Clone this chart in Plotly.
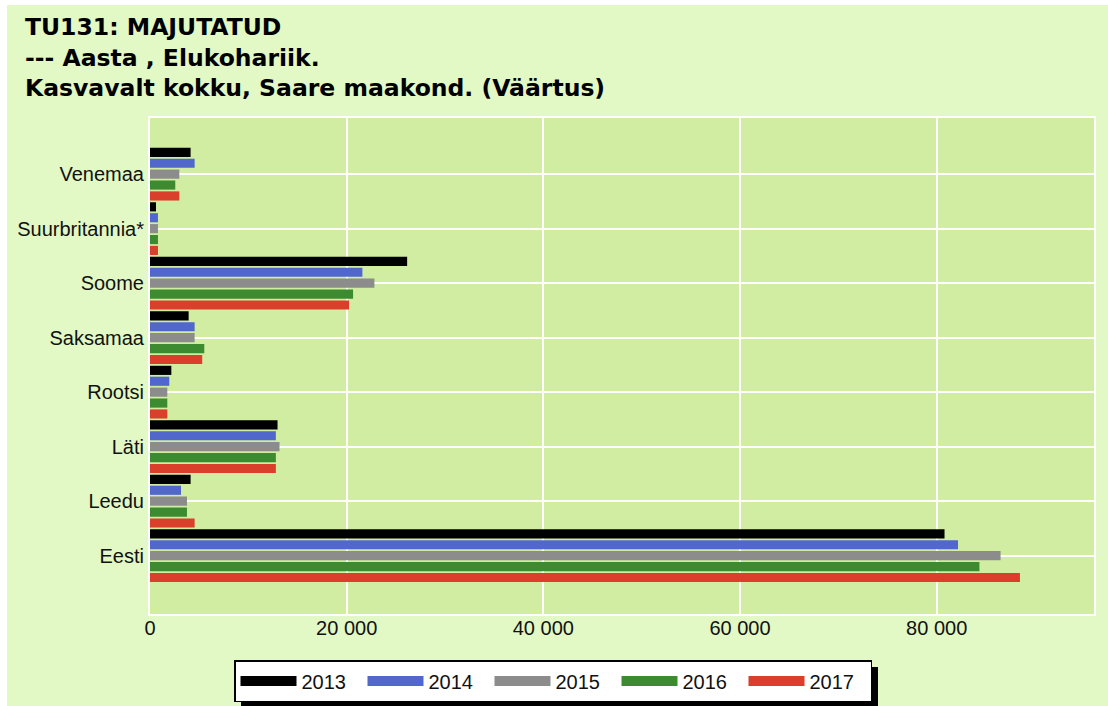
import plotly.graph_objects as go

categories = ["Venemaa", "Suurbritannia*", "Soome", "Saksamaa", "Rootsi", "Läti", "Leedu", "Eesti"]
years = ["2013", "2014", "2015", "2016", "2017"]
v2013 = [4130, 610, 26150, 3930, 2170, 12970, 4130, 80800]
v2014 = [4540, 810, 21600, 4540, 1960, 12800, 3150, 82170]
v2015 = [2980, 810, 22820, 4540, 1760, 13170, 3760, 86500]
v2016 = [2570, 810, 20650, 5520, 1760, 12800, 3760, 84350]
v2017 = [2980, 810, 20240, 5310, 1760, 12800, 4540, 88470]
series = [v2013, v2014, v2015, v2016, v2017]
colors = ["#000000", "#5167cc", "#8c8c8c", "#3d8b31", "#d93f2b"]
x_ticks = [0, 20000, 40000, 60000, 80000]
x_ticklabels = ["0", "20 000", "40 000", "60 000", "80 000"]

W, H = 1108, 706
ML, MR, MT, MB = 150, 14, 118, 92
PW, PH = W - ML - MR, H - MT - MB

def px_x(p):
    return (p - ML) / PW

def px_y(p):
    return (H - MB - p) / PH

fig = go.Figure()
for yr, vals, col in zip(years, series, colors):
    fig.add_trace(go.Bar(
        y=categories, x=vals, orientation="h", name=yr,
        marker=dict(color=col, line=dict(width=0)),
        showlegend=False,
    ))
# legend entries (wide swatches)
for yr, col in zip(years, colors):
    fig.add_trace(go.Scatter(
        x=[None], y=[None], mode="lines", name=yr,
        line=dict(color=col, width=17),
        showlegend=True, hoverinfo="skip",
    ))

tick_font = dict(family="Liberation Sans, Arial, sans-serif", size=20, color="#111111")

LEG_TOP = 660
fig.update_layout(
    width=W, height=H,
    margin=dict(l=ML, r=MR, t=MT, b=MB, pad=0, autoexpand=False),
    paper_bgcolor="#e2f8c5",
    plot_bgcolor="#d0eda1",
    barmode="group",
    bargap=0.0,
    bargroupgap=0.16,
    title=dict(
        text="TU131: MAJUTATUD<br>--- Aasta , Elukohariik.<br>Kasvavalt kokku, Saare maakond. (Väärtus)",
        x=25 / W, xanchor="left", xref="container",
        y=1 - 35 / H, yanchor="top", yref="container",
        font=dict(family="DejaVu Sans, sans-serif", size=23.5, color="#000000", weight="bold"),
    ),
    xaxis=dict(
        range=[0, 96000], tickvals=x_ticks, ticktext=x_ticklabels,
        showgrid=True, gridcolor="#ffffff", gridwidth=2,
        showline=True, linecolor="#ffffff", linewidth=2, mirror=True,
        zeroline=False, ticks="", tickfont=tick_font, ticklabelstandoff=-5,
    ),
    yaxis=dict(
        type="category", categoryorder="array", categoryarray=categories,
        range=[8.07, -1.03],
        showgrid=True, gridcolor="#ffffff", gridwidth=2,
        showline=True, linecolor="#ffffff", linewidth=2, mirror=True,
        zeroline=False, ticks="", tickfont=tick_font,
    ),
    legend=dict(
        orientation="h", xref="container", yref="container",
        x=234 / W, y=1 - LEG_TOP / H, xanchor="left", yanchor="top",
        bgcolor="#ffffff", bordercolor="#000000", borderwidth=1.5,
        font=dict(family="Liberation Sans, Arial, sans-serif", size=20, color="#111111"),
        itemwidth=56, entrywidth=56, entrywidthmode="pixels",
        traceorder="normal", itemclick=False, itemdoubleclick=False,
    ),
    shapes=[
        dict(type="rect", xref="paper", yref="paper", layer="below",
             x0=px_x(241), x1=px_x(878), y0=px_y(H + 4), y1=px_y(LEG_TOP + 7),
             fillcolor="#000000", line=dict(width=0)),
        dict(type="rect", xref="paper", yref="paper", layer="below",
             x0=px_x(0), x1=px_x(7), y0=px_y(H), y1=px_y(0),
             fillcolor="#ffffff", line=dict(width=0)),
        dict(type="rect", xref="paper", yref="paper", layer="below",
             x0=px_x(0), x1=px_x(W), y0=px_y(5), y1=px_y(0),
             fillcolor="#ffffff", line=dict(width=0)),
    ],
)

fig.write_html(
    "out.html",
    config={"displayModeBar": False},
    post_script="document.body.style.margin='0';document.body.style.overflow='hidden';",
)
